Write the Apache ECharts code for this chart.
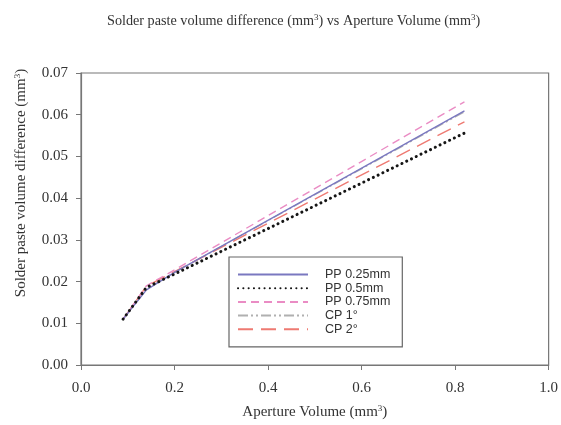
<!DOCTYPE html>
<html>
<head>
<meta charset="utf-8">
<script src="https://cdn.jsdelivr.net/npm/echarts@6/dist/echarts.min.js"></script>
<style>html,body{margin:0;padding:0;background:#fff;}#c{width:561px;height:425px;}</style>
</head>
<body>
<div id="c"></div>
<script>
var xValues = [0.09, 0.14, 0.2, 0.82];
var pp025 = [0.0110, 0.0180, 0.0222, 0.0609];
var pp05  = [0.0110, 0.0186, 0.0218, 0.0556];
var pp075 = [0.0110, 0.0190, 0.0228, 0.0631];
var cp1   = [0.0110, 0.0182, 0.0222, 0.0607];
var cp2   = [0.0110, 0.0189, 0.0224, 0.0583];
var seriesNames = ['PP 0.25mm', 'PP 0.5mm', 'PP 0.75mm', 'CP 1°', 'CP 2°'];
var xTicks = [0.0, 0.2, 0.4, 0.6, 0.8, 1.0];
var yTicks = [0.00, 0.01, 0.02, 0.03, 0.04, 0.05, 0.06, 0.07];

function pairs(ys) { return xValues.map(function (x, i) { return [x, ys[i]]; }); }

var serif = '"Liberation Serif", "Times New Roman", serif';
var chart = echarts.init(document.getElementById('c'), null, { renderer: 'canvas' });
var styles = [
  { color: '#7a78c0', type: 'solid', width: 1.4 },
  { color: '#151515', type: [0.1, 5.2], width: 3, cap: 'round' },
  { color: '#ea8cc4', type: [8, 5], width: 1.4 },
  { color: '#b0b0b0', type: [10, 3, 2, 3, 2, 3], width: 1.4 },
  { color: '#ee7a72', type: [15, 8], width: 1.4 }
];
var zs = [9, 10, 8, 5, 7];
var allData = [pp025, pp05, pp075, cp1, cp2];
function richOf(size) {
  return {
    a: { fontFamily: serif, fontSize: size, fontWeight: 'normal', color: '#333' },
    s: { fontFamily: serif, fontSize: Math.round(size * 0.6), fontWeight: 'normal', color: '#333', verticalAlign: 'top', padding: [0, 0, 7, 0] }
  };
}
chart.setOption({
  animation: false,
  backgroundColor: '#fff',
  title: {
    text: '{a|Solder paste volume difference (mm}{s|3}{a|) vs Aperture Volume (mm}{s|3}{a|)}',
    left: 102, top: 8,
    textStyle: { fontWeight: 'normal', rich: richOf(14.2) }
  },
  grid: { left: 81, right: 9, top: 73, bottom: 60, show: true, borderColor: '#777', borderWidth: 1.2 },
  legend: {
    orient: 'vertical', left: 229, top: 257,
    data: seriesNames,
    itemWidth: 70, itemHeight: 12, itemGap: 0.7,
    padding: [11, 12, 11, 8],
    borderColor: '#666', borderWidth: 1.2,
    itemStyle: { opacity: 0 },
    textStyle: { fontFamily: '"Liberation Sans", Arial, sans-serif', fontSize: 12.5, color: '#333', lineHeight: 12, padding: [0, 0, 0, 12] }
  },
  xAxis: {
    type: 'value', min: 0, max: 1.0, interval: 0.2,
    name: '{a|Aperture Volume (mm}{s|3}{a|)}',
    nameLocation: 'middle', nameGap: 39,
    nameTextStyle: { rich: richOf(15) },
    axisLine: { lineStyle: { color: '#777', width: 1.2 } },
    axisTick: { show: true, length: 5, inside: false, lineStyle: { color: '#777' } },
    axisLabel: { fontFamily: serif, fontSize: 15, color: '#333', margin: 16,
      formatter: function (v) { return v.toFixed(1); } },
    splitLine: { show: false }
  },
  yAxis: {
    type: 'value', min: 0, max: 0.07, interval: 0.01,
    name: '{a|Solder paste volume difference (mm}{s|3}{a|)}',
    nameLocation: 'middle', nameGap: 52,
    nameTextStyle: { padding: [0, 0, 0, 72], rich: richOf(15) },
    axisLine: { show: true, lineStyle: { color: '#777', width: 1.2 } },
    axisTick: { show: true, length: 5, inside: false, lineStyle: { color: '#777' } },
    axisLabel: { fontFamily: serif, fontSize: 15, color: '#333', margin: 13,
      formatter: function (v) { return v.toFixed(2); } },
    splitLine: { show: false }
  },
  series: seriesNames.map(function (n, i) {
    return {
      name: n, type: 'line', data: pairs(allData[i]),
      symbol: 'none', showSymbol: false,
      color: styles[i].color,
      lineStyle: styles[i],
      z: zs[i]
    };
  })
});
</script>
</body>
</html>
